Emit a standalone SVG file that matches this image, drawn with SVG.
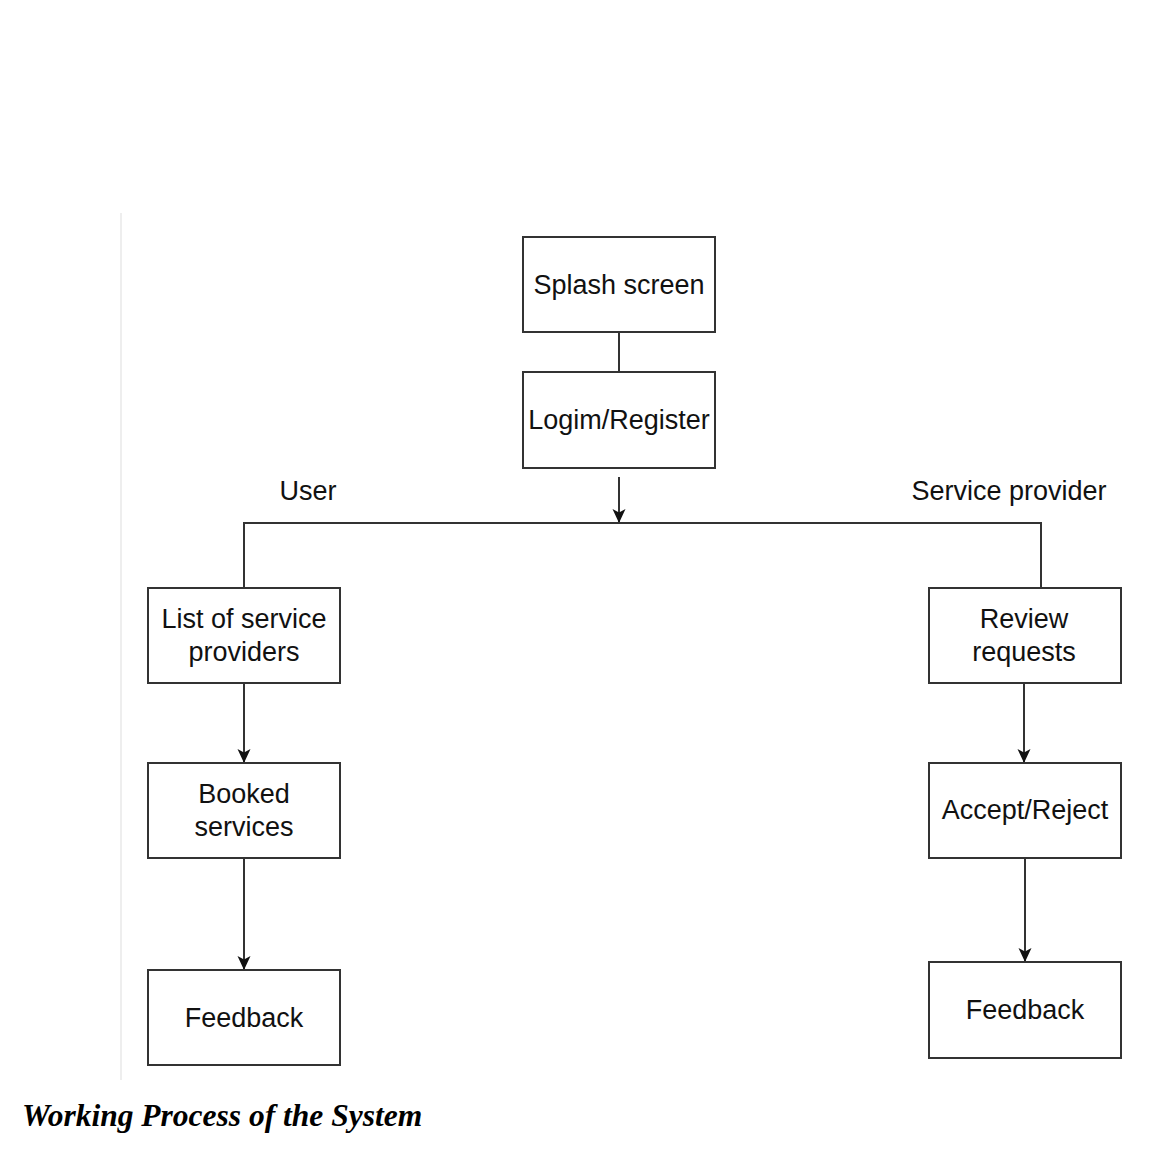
<svg xmlns="http://www.w3.org/2000/svg" width="1150" height="1172" viewBox="0 0 1150 1172">
<style>
.box{fill:#fff;stroke:#333;stroke-width:2}
.t{font-family:"Liberation Sans",Arial,sans-serif;font-size:27px;fill:#111;text-anchor:middle}
.c{fill:none;stroke:#333;stroke-width:2}
.cap{font-family:"Liberation Serif","Times New Roman",serif;font-size:31.5px;font-weight:bold;font-style:italic;fill:#000}
</style>
<defs>
<marker id="ah" markerWidth="14" markerHeight="14" viewBox="0 0 14 14" refX="13" refY="7" orient="auto" markerUnits="userSpaceOnUse">
<path d="M0,0.5 L14,7 L0,13.5 L3.5,7 Z" fill="#111"/>
</marker>
</defs>
<rect width="1150" height="1172" fill="#fff"/>
<line x1="121" y1="213" x2="121" y2="1080" stroke="#eeeeee" stroke-width="2"/>
<g id="connectors">
<line class="c" x1="619" y1="332" x2="619" y2="372"/>
<line class="c" x1="619" y1="477" x2="619" y2="522" marker-end="url(#ah)"/>
<polyline class="c" points="244,588 244,523 1041,523 1041,588"/>
<line class="c" x1="244" y1="683" x2="244" y2="762" marker-end="url(#ah)"/>
<line class="c" x1="244" y1="858" x2="244" y2="969" marker-end="url(#ah)"/>
<line class="c" x1="1024" y1="683" x2="1024" y2="762" marker-end="url(#ah)"/>
<line class="c" x1="1025" y1="858" x2="1025" y2="961" marker-end="url(#ah)"/>
</g>
<g id="splash"><rect class="box" x="523" y="237" width="192" height="95"/><text class="t" x="619" y="294">Splash screen</text></g>
<g id="login"><rect class="box" x="523" y="372" width="192" height="96"/><text class="t" x="619" y="429">Logim/Register</text></g>
<g id="user-label"><text class="t" x="308" y="500">User</text></g>
<g id="sp-label"><text class="t" x="1009" y="500">Service provider</text></g>
<g id="list"><rect class="box" x="148" y="588" width="192" height="95"/><text class="t" x="244" y="628">List of service</text><text class="t" x="244" y="661">providers</text></g>
<g id="booked"><rect class="box" x="148" y="763" width="192" height="95"/><text class="t" x="244" y="803">Booked</text><text class="t" x="244" y="836">services</text></g>
<g id="feedback-user"><rect class="box" x="148" y="970" width="192" height="95"/><text class="t" x="244" y="1027">Feedback</text></g>
<g id="review"><rect class="box" x="929" y="588" width="192" height="95"/><text class="t" x="1024" y="628">Review</text><text class="t" x="1024" y="661">requests</text></g>
<g id="accept"><rect class="box" x="929" y="763" width="192" height="95"/><text class="t" x="1025" y="819">Accept/Reject</text></g>
<g id="feedback-sp"><rect class="box" x="929" y="962" width="192" height="96"/><text class="t" x="1025" y="1019">Feedback</text></g>
<text class="cap" x="22" y="1126">Working Process of the System</text>
</svg>
